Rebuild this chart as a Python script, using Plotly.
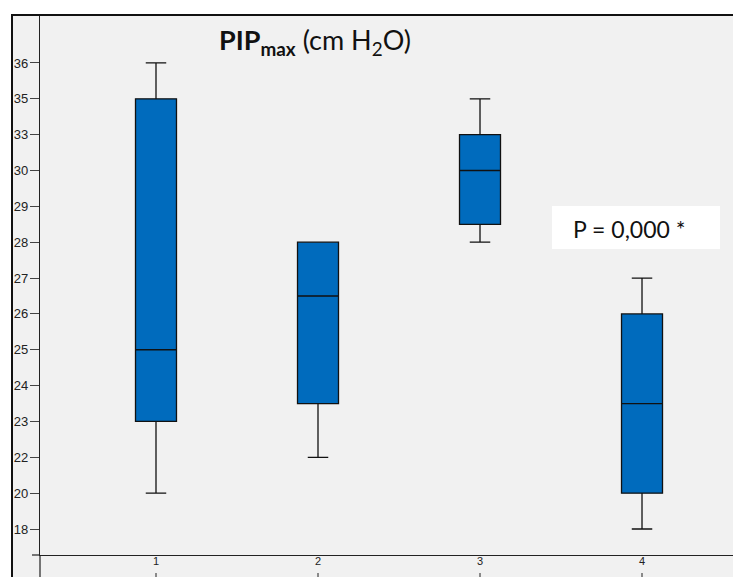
import numpy as np
import plotly.graph_objects as go

# Data
groups = [1, 2, 3, 4]
group_labels = ["1", "2", "3", "4"]
lower_whisker = [20, 22, 28, 18]
q1_values = [23, 23.5, 28.5, 20]
median_values = [25, 26.5, 30, 23.5]
q3_values = [35, 28, 33, 26]
upper_whisker = [36, 28, 35, 27]
y_tick_labels = [18, 20, 22, 23, 24, 25, 26, 27, 28, 29, 30, 33, 35, 36]

# Ordinal scale: tick labels are equally spaced
y_idx = np.arange(len(y_tick_labels))
def scale(v):
    return float(np.interp(v, y_tick_labels, y_idx))

OFF = 8  # page body margin
W, H = 741 - OFF, 577 - OFF
L, R, T, B = 40 - OFF, 0, 16 - OFF, 22
pw, ph = W - L - R, H - T - B
def px_x(px):  # page pixel -> paper
    return (px - OFF - L) / pw
def px_y(py):
    return (H - B - (py - OFF)) / ph

BOX_FILL = "#006bbd"
fig = go.Figure()
for i, g in enumerate(groups):
    fig.add_trace(go.Box(
        x=[g],
        q1=[scale(q1_values[i])],
        median=[scale(median_values[i])],
        q3=[scale(q3_values[i])],
        lowerfence=[scale(lower_whisker[i])],
        upperfence=[scale(upper_whisker[i])],
        width=0.253,
        whiskerwidth=0.5,
        fillcolor=BOX_FILL,
        line=dict(color="#111111", width=1.3),
        boxpoints=False,
        showlegend=False,
        hoverinfo="skip",
    ))

shapes = []
# outer gray frame with black top/left border
shapes.append(dict(type="rect", xref="paper", yref="paper",
                   x0=px_x(12), x1=1.05, y0=-0.2, y1=px_y(15),
                   fillcolor="#f1f1f1", line=dict(color="#111111", width=2),
                   layer="below"))
# y-axis extension below the x axis
shapes.append(dict(type="line", xref="paper", yref="paper",
                   x0=0, x1=0, y0=px_y(580), y1=0,
                   line=dict(color="#222222", width=1.2)))
# x-axis extension left of the y axis
shapes.append(dict(type="line", xref="paper", yref="paper",
                   x0=px_x(32), x1=0, y0=0, y1=0,
                   line=dict(color="#222222", width=1.2)))
# small x tick marks below the labels
for g in groups:
    shapes.append(dict(type="line", xref="x", yref="paper",
                       x0=g, x1=g, y0=px_y(580), y1=px_y(573),
                       line=dict(color="#222222", width=1)))
# white box behind P value
shapes.append(dict(type="rect", xref="paper", yref="paper",
                   x0=px_x(552), x1=px_x(720), y0=px_y(249), y1=px_y(206),
                   fillcolor="white", line=dict(width=0)))

annotations = [
    dict(text="<b>PIP</b><b><sub>max</sub></b> (cm H<sub>2</sub>O)",
         xref="paper", yref="paper", x=px_x(315), y=px_y(42),
         showarrow=False, font=dict(family="Lato", size=27, color="#111111"),
         xanchor="center", yanchor="middle"),
    dict(text="P = 0,000 *",
         xref="paper", yref="paper", x=px_x(629.5), y=px_y(229),
         showarrow=False, font=dict(family="Lato", size=23, color="#111111"),
         xanchor="center", yanchor="middle"),
]

fig.update_layout(
    width=W, height=H,
    margin=dict(l=L, r=R, t=T, b=B, pad=0),
    paper_bgcolor="white",
    plot_bgcolor="#f1f1f1",
    shapes=shapes,
    annotations=annotations,
    xaxis=dict(range=[0.284, 4.611], tickvals=groups, ticktext=group_labels,
               showgrid=False, zeroline=False, showline=True,
               linecolor="#222222", linewidth=1.2, ticks="",
               ticklabelstandoff=-4,
               tickfont=dict(family="Liberation Sans", size=11, color="#222222")),
    yaxis=dict(range=[-0.725, 14.31], tickvals=list(y_idx),
               ticktext=[str(v) for v in y_tick_labels],
               showgrid=False, zeroline=False, showline=True,
               linecolor="#222222", linewidth=1.2, ticks="outside",
               ticklen=9, tickcolor="#444444", tickwidth=1,
               ticklabelstandoff=-1,
               tickfont=dict(family="Liberation Sans", size=13, color="#222222")),
)

fig.write_html("out.html")
